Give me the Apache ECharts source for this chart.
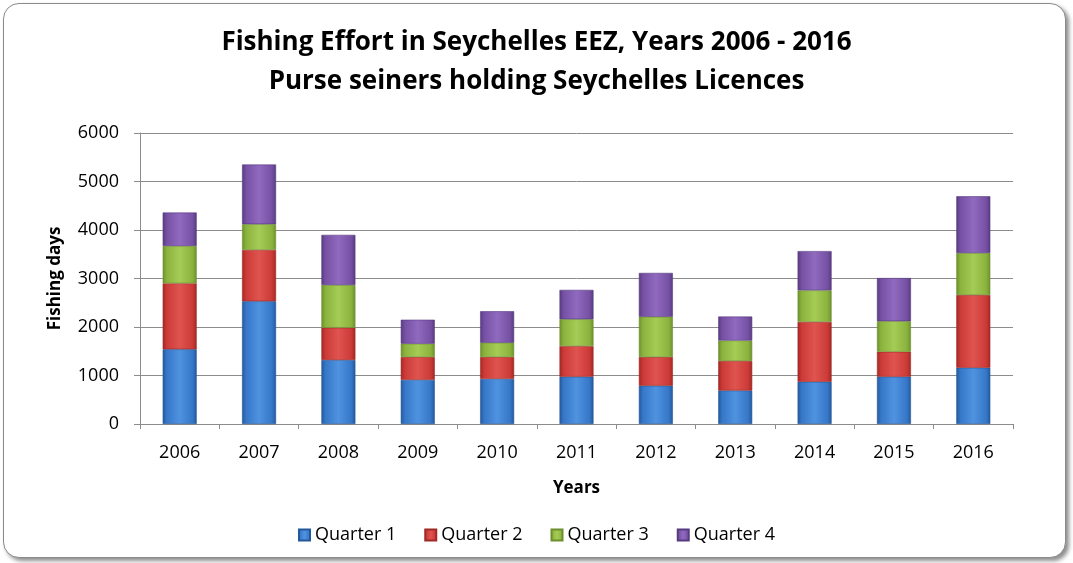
<!DOCTYPE html>
<html>
<head>
<meta charset="utf-8">
<script src="https://cdn.jsdelivr.net/npm/echarts@6/dist/echarts.min.js"></script>
<style>
    html, body { margin: 0; padding: 0; background: #fff; }
    #frame {
        position: absolute; left: 3px; top: 3px; width: 1061px; height: 553px;
        border: 1px solid #8a8a8a; border-radius: 16px;
        box-shadow: 3px 3px 4px rgba(0,0,0,0.45);
        background: #fff;
    }
    #chartBox { position: absolute; left: 0; top: 0; width: 1073px; height: 563px; }
</style>
</head>
<body>
<div id="frame"></div>
<div id="chartBox"></div>
<script>
var years = ['2006', '2007', '2008', '2009', '2010', '2011', '2012', '2013', '2014', '2015', '2016'];
var quarter1 = [1540, 2530, 1320, 910, 930, 975, 790, 690, 870, 975, 1160];
var quarter2 = [1360, 1060, 665, 470, 450, 630, 590, 610, 1235, 515, 1500];
var quarter3 = [770, 530, 880, 275, 295, 555, 830, 420, 650, 630, 865];
var quarter4 = [690, 1230, 1035, 495, 650, 605, 905, 495, 810, 890, 1170];
var seriesNames = ['Quarter 1', 'Quarter 2', 'Quarter 3', 'Quarter 4'];
var yTicks = [0, 1000, 2000, 3000, 4000, 5000, 6000];

var font = '"Open Sans", sans-serif';
// base, light, dark
var shades = [
    ['#3677c8', '#4f93e0', '#24589a'],
    ['#cc3a36', '#df5450', '#a02825'],
    ['#8ab33d', '#a5cc55', '#6c8f2e'],
    ['#7550a3', '#8f6abf', '#573b80']
];

function bevel(s) {
    return new echarts.graphic.LinearGradient(0, 0, 1, 0, [
        {offset: 0, color: s[2]},
        {offset: 0.12, color: s[0]},
        {offset: 0.5, color: s[1]},
        {offset: 0.88, color: s[0]},
        {offset: 1, color: s[2]}
    ]);
}

var myChart = echarts.init(document.getElementById('chartBox'));
var dataList = [quarter1, quarter2, quarter3, quarter4];
var series = [];
for (var i = 0; i < dataList.length; i++) {
    series.push({
        name: seriesNames[i],
        type: 'bar',
        stack: 'total',
        barWidth: 34,
        data: dataList[i],
        itemStyle: {
            color: bevel(shades[i]),
            borderColor: shades[i][2],
            borderWidth: 0.6
        }
    });
}

var option = {
    animation: false,
    color: ['#3677c8', '#cc3a36', '#8ab33d', '#7550a3'],
    title: {
        text: 'Fishing Effort in Seychelles EEZ, Years 2006 - 2016\nPurse seiners holding Seychelles Licences',
        left: 'center',
        top: 18,
        textStyle: {
            fontFamily: font,
            fontSize: 26,
            fontWeight: 'bold',
            color: '#000',
            lineHeight: 39
        }
    },
    legend: {
        bottom: 14,
        left: 'center',
        itemWidth: 11,
        itemHeight: 11,
        itemGap: 28,
        icon: 'rect',
        data: seriesNames,
        textStyle: {fontFamily: font, fontSize: 18, color: '#000'}
    },
    grid: {left: 140, right: 60, top: 133, bottom: 139},
    xAxis: {
        type: 'category',
        data: years,
        name: 'Years',
        nameLocation: 'middle',
        nameGap: 56,
        nameTextStyle: {fontFamily: font, fontSize: 17, fontWeight: 'bold', color: '#000'},
        axisLine: {lineStyle: {color: '#8c8c8c', width: 1}},
        axisTick: {show: true, length: 5, lineStyle: {color: '#8c8c8c'}},
        axisLabel: {fontFamily: font, fontSize: 18, color: '#000', margin: 20}
    },
    yAxis: {
        type: 'value',
        min: yTicks[0],
        max: yTicks[yTicks.length - 1],
        interval: 1000,
        name: 'Fishing days',
        nameLocation: 'middle',
        nameGap: 76,
        nameTextStyle: {fontFamily: font, fontSize: 17, fontWeight: 'bold', color: '#000'},
        axisLine: {show: true, lineStyle: {color: '#8c8c8c', width: 1}},
        axisTick: {show: true, length: 6, lineStyle: {color: '#8c8c8c'}},
        axisLabel: {
            fontFamily: font, fontSize: 18, color: '#000', margin: 21,
            formatter: function (v) { return String(v); }
        },
        splitLine: {lineStyle: {color: '#8c8c8c', width: 1}}
    },
    series: series
};
myChart.setOption(option);
</script>
</body>
</html>
